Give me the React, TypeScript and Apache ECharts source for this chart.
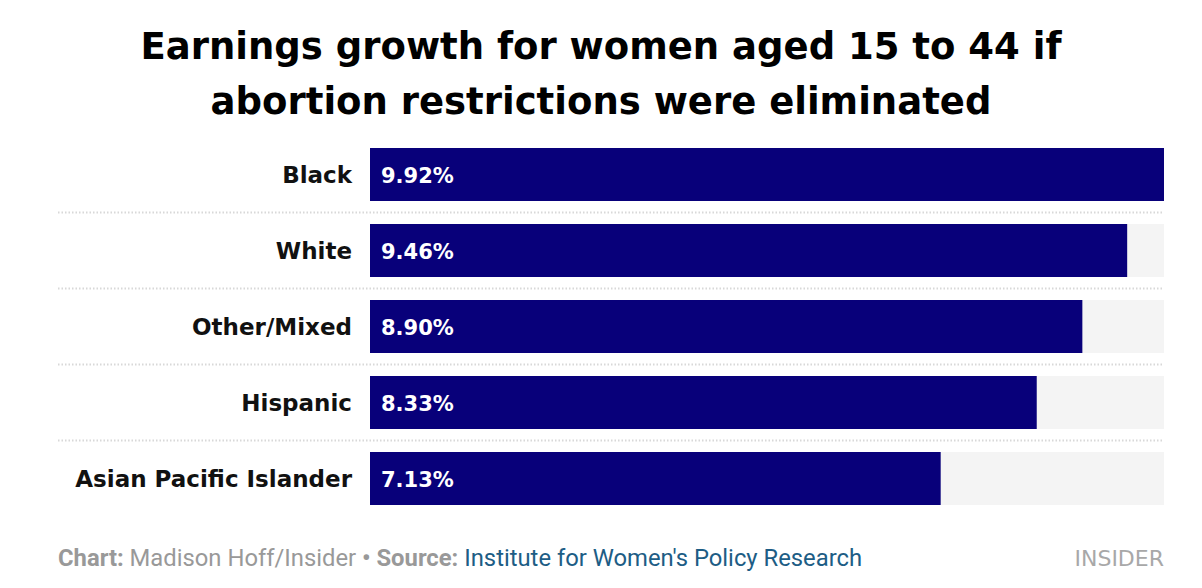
import React, { useEffect, useRef } from "react";
import * as echarts from "echarts";

const categories = ["Black", "White", "Other/Mixed", "Hispanic", "Asian Pacific Islander"];
const values = [9.92, 9.46, 8.9, 8.33, 7.13];
const maxValue = 9.92;

const W = 1202;
const H = 588;
const GRID_LEFT = 370;
const GRID_RIGHT = 38;
const GRID_TOP = 136.5;
const GRID_BOTTOM = 71.5;

export default function App() {
  const ref = useRef<HTMLDivElement>(null);
  useEffect(() => {
    document.body.style.margin = "0";
    const chart = echarts.init(ref.current!, null, { renderer: "svg" });
    const n = categories.length;
    const band = (H - GRID_TOP - GRID_BOTTOM) / n;
    const dividers = [] as any[];
    for (let i = 1; i < n; i++) {
      const y = GRID_TOP + band * i;
      dividers.push({
        type: "line",
        shape: { x1: 58, y1: y, x2: W - GRID_RIGHT, y2: y },
        style: { stroke: "#d8d8d8", lineWidth: 2, lineDash: [1.5, 2] },
        silent: true,
      });
    }
    chart.setOption({
      animation: false,
      title: {
        text: "Earnings growth for women aged 15 to 44 if\nabortion restrictions were eliminated",
        left: "center",
        top: 14,
        textStyle: {
          fontFamily: "DejaVu Sans",
          fontWeight: "bold",
          fontSize: 37,
          lineHeight: 55,
          color: "#000",
        },
      },
      grid: { left: GRID_LEFT, right: GRID_RIGHT, top: GRID_TOP, bottom: GRID_BOTTOM },
      xAxis: { type: "value", min: 0, max: maxValue, show: false },
      yAxis: {
        type: "category",
        data: categories,
        inverse: true,
        axisLine: { show: false },
        axisTick: { show: false },
        splitLine: { show: false },
        axisLabel: {
          margin: 18,
          fontFamily: "DejaVu Sans",
          fontWeight: "bold",
          fontSize: 23,
          color: "#111",
        },
      },
      series: [
        {
          type: "bar",
          data: categories.map(() => maxValue),
          barWidth: 53,
          barGap: "-100%",
          itemStyle: { color: "#f4f4f4" },
          silent: true,
          z: 1,
        },
        {
          type: "bar",
          data: values,
          barWidth: 53,
          itemStyle: { color: "#08007a" },
          z: 2,
          label: {
            show: true,
            position: "insideLeft",
            offset: [6, 1],
            formatter: (p: any) => p.value.toFixed(2) + "%",
            fontFamily: "DejaVu Sans",
            fontWeight: "bold",
            fontSize: 21,
            color: "#fff",
          },
        },
      ],
      graphic: [
        ...dividers,
        {
          type: "text",
          left: 58,
          top: 546,
          style: {
            text: "{b|Chart:} {r|Madison Hoff/Insider} {b|• Source:} {l|Institute for Women's Policy Research}",
            rich: {
              b: { fontFamily: "Roboto", fontWeight: "bold", fontSize: 23.8, fill: "#999" },
              r: { fontFamily: "Roboto", fontSize: 23.8, fill: "#999" },
              l: { fontFamily: "Roboto", fontSize: 23.8, fill: "#1d5d85" },
            },
            fontFamily: "Roboto",
            fontSize: 23.8,
          },
        },
        {
          type: "text",
          right: 38,
          top: 547,
          style: {
            text: "INSIDER",
            fontFamily: "DejaVu Sans",
            fontSize: 22,
            fill: "#a8a8a8",
          },
        },
      ],
    });
    return () => chart.dispose();
  }, []);
  return <div ref={ref} style={{ width: W, height: H }} />;
}
